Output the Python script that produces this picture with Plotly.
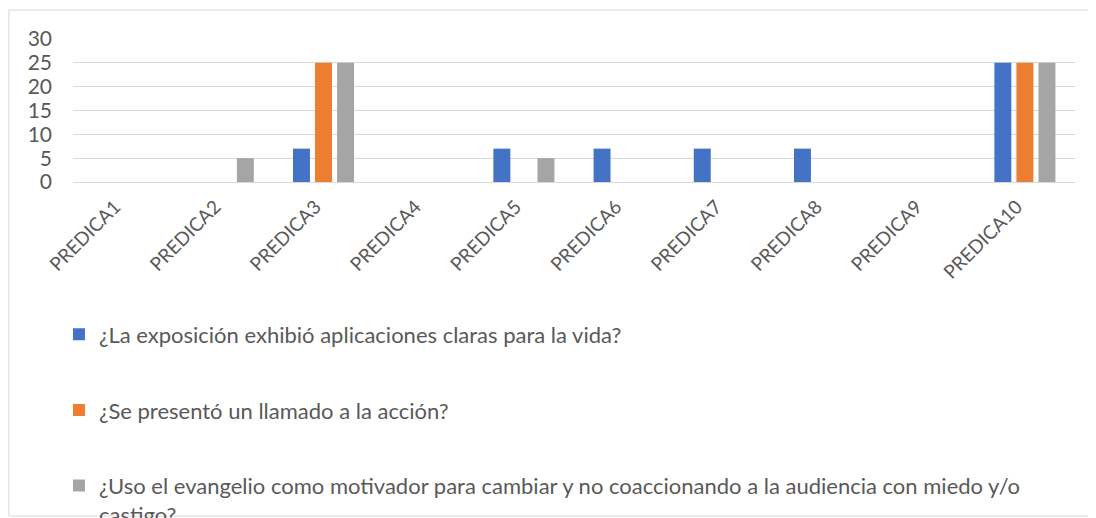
import plotly.graph_objects as go

categorias = ["PREDICA1", "PREDICA2", "PREDICA3", "PREDICA4", "PREDICA5",
              "PREDICA6", "PREDICA7", "PREDICA8", "PREDICA9", "PREDICA10"]

aplicaciones = [0, 0, 7, 0, 7, 7, 7, 7, 0, 25]
llamado = [0, 0, 25, 0, 0, 0, 0, 0, 0, 25]
evangelio = [0, 5, 25, 0, 5, 0, 0, 0, 0, 25]

nombres = [
    "¿La exposición exhibió aplicaciones claras para la vida?",
    "¿Se presentó un llamado a la acción?",
    "¿Uso el evangelio como motivador para cambiar y no coaccionando a la audiencia con miedo y/o<br>castigo?",
]
colores = ["#4472C4", "#ED7D31", "#A5A5A5"]

fig = go.Figure()
for i, (serie, nombre, color) in enumerate(zip([aplicaciones, llamado, evangelio], nombres, colores)):
    fig.add_trace(go.Bar(
        x=categorias, y=serie, name=nombre,
        marker=dict(color=color, line=dict(width=0)),
        legendgroup=f"g{i}",
    ))

# marco del gráfico (estilo Excel)
fig.add_shape(type="rect", xref="paper", yref="paper",
              x0=-0.064, x1=1.02, y0=-2.336, y1=1.203,
              line=dict(color="#D9D9D9", width=1), layer="below")

fig.update_layout(
    width=1096, height=518,
    margin=dict(l=65, r=29, t=31, b=344, autoexpand=False),
    paper_bgcolor="white", plot_bgcolor="white",
    font=dict(family="Lato", color="#595959", size=17),
    barmode="group", bargap=0.34, bargroupgap=0.23,
    showlegend=True,
    legend=dict(
        orientation="v", x=-0.014, xanchor="left", y=-0.92, yanchor="top",
        tracegroupgap=44, valign="top",
        font=dict(size=22, color="#595959"),
        bgcolor="rgba(0,0,0,0)",
    ),
)
fig.update_xaxes(tickangle=-45, showline=False, showgrid=False,
                 tickfont=dict(size=19, color="#595959"), ticklabelstandoff=9,
                 ticklabelshift=-8)
fig.update_yaxes(range=[0, 30], dtick=5, showgrid=True, gridcolor="#D9D9D9", gridwidth=1,
                 zeroline=True, zerolinecolor="#D9D9D9", zerolinewidth=1,
                 showline=False, tickfont=dict(size=21, color="#595959"), ticklabelstandoff=20)

fig.write_html("out.html")
